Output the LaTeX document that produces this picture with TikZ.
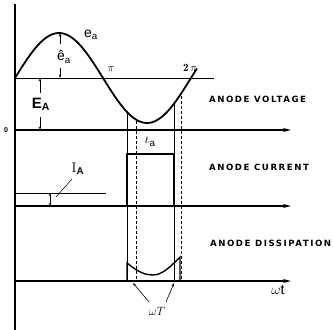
\documentclass[tikz,border=0pt]{standalone}
\usepackage{fontspec}
\setsansfont{Liberation Sans}
\newfontfamily\lblfont[LetterSpace=18]{DejaVu Sans}
\usetikzlibrary{arrows.meta}
\tikzset{
  axis/.style={line width=1.3pt,-{Stealth[length=8pt,width=4pt]}},
  thinl/.style={line width=0.5pt},
  curve/.style={line width=1.8pt},
  pulse/.style={line width=1.4pt},
  dashl/.style={line width=0.5pt,dash pattern=on 3pt off 2pt},
  dim/.style={line width=0.6pt,-{Stealth[length=3.5pt,width=2.5pt]}},
  lbl/.style={font=\lblfont\bfseries\fontsize{8.6}{9}\selectfont,anchor=west,inner sep=0pt},
  sym/.style={font=\sffamily,inner sep=0pt}
}
\begin{document}
\begin{tikzpicture}[x=1pt,y=-1pt]
\useasboundingbox (0,0) rectangle (333,330);
% coordinates
\coordinate (vtop) at (15,4);
\coordinate (vbot) at (15,330);
\coordinate (a1s) at (15,130); \coordinate (a1e) at (291,130);
\coordinate (a2s) at (15,206); \coordinate (a2e) at (291,206);
\coordinate (a3s) at (15,281); \coordinate (a3e) at (291,281);
\coordinate (eas) at (15,78); \coordinate (eae) at (214,78);
\coordinate (ias) at (15,193); \coordinate (iae) at (106,193);
% axes
\draw[line width=1.3pt] (vtop) -- (vbot);
\draw[axis] (a1s) -- (a1e);
\draw[axis] (a2s) -- (a2e);
\draw[axis] (a3s) -- (a3e);
\draw[thinl] (eas) -- (eae);
\draw[thinl] (ias) -- (iae);
% sine
\draw[curve] plot[domain=15:197,samples=90] (\x,{78-45*sin((\x-15)/176*360)});
% vertical guide lines
\coordinate (l1t) at (127,112); \coordinate (l1b) at (127,281);
\coordinate (l2t) at (136,121); \coordinate (l2b) at (136,281);
\coordinate (l3t) at (174,104); \coordinate (l3b) at (174,281);
\coordinate (l4t) at (181,96); \coordinate (l4b) at (181,281);
\draw[thinl] (l1t) -- (l1b);
\draw[dashl] (l2t) -- (l2b);
\draw[thinl] (l3t) -- (l3b);
\draw[dashl] (l4t) -- (l4b);
% current pulse
\coordinate (c1) at (127,206); \coordinate (c2) at (127,154);
\coordinate (c3) at (174,154); \coordinate (c4) at (174,206);
\draw[pulse] (c1) -- (c2) -- (c3) -- (c4);
% dissipation pulse
\coordinate (d1) at (127,281); \coordinate (d2) at (127,263);
\coordinate (d3) at (153,275); \coordinate (d4) at (180,257);
\coordinate (d5) at (180,281);
\draw[pulse] (d1) -- (d2) .. controls (138,272) and (145,275) .. (d3)
  .. controls (163,275) and (172,265) .. (d4) -- (d5);
% dimension arrows
\coordinate (p1) at (60,44); \coordinate (p2) at (60,33);
\coordinate (p3) at (60,68); \coordinate (p4) at (60,78);
\draw[dim] (p1) -- (p2);
\draw[dim] (p3) -- (p4);
\coordinate (q1) at (40,93); \coordinate (q2) at (40,78);
\coordinate (q3) at (40,117); \coordinate (q4) at (40,130);
\draw[dim] (q1) -- (q2);
\draw[dim] (q3) -- (q4);
\coordinate (r1) at (50,193); \coordinate (r2) at (50,206);
\draw[line width=0.6pt,{Stealth[length=3pt,width=2.5pt]}-{Stealth[length=3pt,width=2.5pt]}] (r1) -- (r2);
% labels
\node[sym,font=\sffamily\fontsize{14}{14}\selectfont] (ea) at (91,35) {e\textsubscript{a}};
\node[sym,font=\sffamily\fontsize{14}{14}\selectfont] (eah) at (64,57) {ê\textsubscript{a}};
\node[sym,font=\sffamily\bfseries\fontsize{15}{15}\selectfont] (EA) at (41,104) {E\textsubscript{A}};
\node[inner sep=0pt,font=\fontsize{11}{11}\selectfont] (pi) at (111,69) {$\pi$};
\node[inner sep=0pt,font=\fontsize{11}{11}\selectfont] (tpi) at (190,68) {$\mathbf{2}\,\pi$};
\node[sym,font=\sffamily\bfseries\fontsize{7}{7}\selectfont] (zero) at (6,130) {0};
\node[lbl] (av) at (209,99) {ANODE VOLTAGE};
\node[lbl] (ac) at (209,167) {ANODE CURRENT};
\node[lbl] (ad) at (210,243) {ANODE DISSIPATION};
\node[inner sep=0pt,font=\fontsize{14}{14}\selectfont] (ia) at (150,142) {$\iota_{\mathsf a}$};
\node[inner sep=0pt,font=\fontsize{14}{14}\selectfont] (IA) at (78,169) {I\textsubscript{\sffamily\bfseries A}};
\node[inner sep=0pt,font=\fontsize{14}{14}\selectfont] (wt) at (278,290) {$\omega$\textsf{t}};
\node[inner sep=0pt,font=\fontsize{12}{12}\selectfont] (wT) at (157,311) {$\omega T$};
% leader lines
\coordinate (IAl) at (72,179); \coordinate (IAh) at (56,197);
\draw[thinl] (IAl) -- (IAh);
\coordinate (w1) at (149,302); \coordinate (w2) at (133,283);
\coordinate (w3) at (166,302); \coordinate (w4) at (174,283);
\draw[dim] (w1) -- (w2);
\draw[dim] (w3) -- (w4);
\end{tikzpicture}
\end{document}
